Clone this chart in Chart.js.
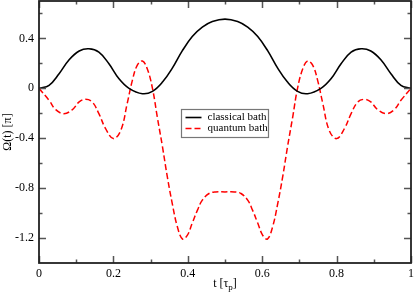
<!DOCTYPE html>
<html>
<head>
<meta charset="utf-8">
<script src="https://cdn.jsdelivr.net/npm/chart.js@4/dist/chart.umd.min.js"></script>
<style>
  html, body { margin: 0; padding: 0; background: #fff; }
</style>
</head>
<body>
<canvas id="chart" width="415" height="295"></canvas>
<script>
// data (t in units of tau_p, Omega in units of pi)
const classicalT = [0, 0.027, 0.054, 0.081, 0.108, 0.134, 0.161, 0.188, 0.215, 0.242, 0.278, 0.305, 0.332, 0.358, 0.385, 0.412, 0.439, 0.466, 0.5,
  0.534, 0.561, 0.588, 0.615, 0.642, 0.668, 0.695, 0.722, 0.758, 0.785, 0.812, 0.839, 0.866, 0.892, 0.919, 0.946, 0.973, 1];
const classicalOmega = [0, 0.024, 0.117, 0.229, 0.299, 0.317, 0.29, 0.197, 0.077, 0, -0.043, -0.024, 0.05, 0.16, 0.3, 0.415, 0.49, 0.535, 0.555,
  0.535, 0.49, 0.415, 0.3, 0.16, 0.05, -0.024, -0.043, 0, 0.077, 0.197, 0.29, 0.317, 0.299, 0.229, 0.117, 0.024, 0];

const quantumT = [0, 0.027, 0.045, 0.067, 0.09, 0.108, 0.125, 0.143, 0.161, 0.179, 0.2, 0.22, 0.237, 0.251, 0.264, 0.278, 0.291, 0.305,
  0.318, 0.332, 0.345, 0.358, 0.372, 0.386, 0.399, 0.412, 0.426, 0.439, 0.457, 0.475, 0.5,
  0.525, 0.543, 0.561, 0.574, 0.588, 0.601, 0.614, 0.628, 0.642, 0.655, 0.668, 0.682,
  0.695, 0.709, 0.722, 0.736, 0.749, 0.763, 0.78, 0.8, 0.821, 0.839, 0.857, 0.875, 0.892, 0.91, 0.933, 0.955, 0.973, 1];
const quantumOmega = [0, -0.096, -0.171, -0.203, -0.17, -0.109, -0.088, -0.109, -0.203, -0.323, -0.403, -0.336, -0.123, 0.064, 0.184, 0.219, 0.157, 0,
  -0.23, -0.47, -0.71, -0.92, -1.11, -1.208, -1.176, -1.08, -0.976, -0.896, -0.843, -0.83, -0.83,
  -0.83, -0.843, -0.896, -0.976, -1.08, -1.176, -1.208, -1.11, -0.92, -0.71, -0.47, -0.23,
  0, 0.157, 0.219, 0.184, 0.064, -0.123, -0.336, -0.403, -0.323, -0.203, -0.109, -0.088, -0.109, -0.17, -0.203, -0.171, -0.096, 0];

const xTicks = [0, 0.2, 0.4, 0.6, 0.8, 1];
const xMinorTicks = [0.1, 0.3, 0.5, 0.7, 0.9];
const yTicks = [-1.2, -0.8, -0.4, 0, 0.4];
const yMinorTicks = [-1.0, -0.6, -0.2, 0.2, 0.6];

const toPoints = (ts, vals) => ts.map((t, i) => ({ x: t, y: vals[i] }));

const serif = "'Liberation Serif', 'Times New Roman', serif";
const font = { family: serif, size: 12 };

// frame, inside ticks, axis titles and the boxed legend
const framePlugin = {
  id: "frame",
  afterDatasetsDraw(chart) {
    const { ctx, chartArea: a, scales } = chart;
    const xs = scales.x;
    const ys = scales.y;
    ctx.save();

    // ticks on all four sides, pointing inward
    ctx.strokeStyle = "#555";
    ctx.lineWidth = 1.5;
    const tick = (vals, len) => {
      vals.forEach((v) => {
        const px = Math.round(xs.getPixelForValue(v)) + 0.5;
        ctx.beginPath();
        ctx.moveTo(px, a.bottom);
        ctx.lineTo(px, a.bottom - len);
        ctx.moveTo(px, a.top);
        ctx.lineTo(px, a.top + len);
        ctx.stroke();
      });
    };
    const tickY = (vals, len) => {
      vals.forEach((v) => {
        const py = Math.round(ys.getPixelForValue(v)) + 0.5;
        ctx.beginPath();
        ctx.moveTo(a.left, py);
        ctx.lineTo(a.left + len, py);
        ctx.moveTo(a.right, py);
        ctx.lineTo(a.right - len, py);
        ctx.stroke();
      });
    };
    tick(xTicks, 7);
    tick(xMinorTicks, 3.5);
    tickY(yTicks, 7);
    tickY(yMinorTicks, 3.5);

    // frame
    ctx.strokeStyle = "#222";
    ctx.lineWidth = 1.8;
    ctx.strokeRect(a.left, a.top, a.right - a.left, a.bottom - a.top);

    // x title with subscript
    ctx.fillStyle = "#000";
    ctx.textBaseline = "alphabetic";
    ctx.font = `12px ${serif}`;
    const part1 = "t [τ";
    const part3 = "]";
    const w1 = ctx.measureText(part1).width;
    const w3 = ctx.measureText(part3).width;
    ctx.font = `9px ${serif}`;
    const w2 = ctx.measureText("p").width;
    const cx = (a.left + a.right) / 2;
    let x0 = cx - (w1 + w2 + w3) / 2;
    const base = a.bottom + 24;
    ctx.font = `12px ${serif}`;
    ctx.fillText(part1, x0, base);
    ctx.font = `9px ${serif}`;
    ctx.fillText("p", x0 + w1, base + 3);
    ctx.font = `12px ${serif}`;
    ctx.fillText(part3, x0 + w1 + w2, base);

    // y title
    ctx.save();
    ctx.translate(11, (a.top + a.bottom) / 2);
    ctx.rotate(-Math.PI / 2);
    ctx.textAlign = "center";
    ctx.fillText("Ω(t) [π]", 0, 0);
    ctx.restore();

    // legend box
    const lx = Math.round(a.left + 0.382 * (a.right - a.left)) + 0.5;
    const ly = Math.round(a.top + 0.414 * (a.bottom - a.top)) + 0.5;
    const lw = 87;
    const lh = 28;
    ctx.fillStyle = "#fff";
    ctx.fillRect(lx, ly, lw, lh);
    ctx.strokeStyle = "#777";
    ctx.lineWidth = 1.2;
    ctx.strokeRect(lx, ly, lw, lh);
    ctx.font = `11px ${serif}`;
    ctx.textBaseline = "middle";
    chart.data.datasets.forEach((ds, i) => {
      const yy = ly + 8 + i * 11;
      ctx.strokeStyle = ds.borderColor;
      ctx.lineWidth = ds.borderWidth;
      ctx.setLineDash(ds.borderDash || []);
      ctx.beginPath();
      ctx.moveTo(lx + 4, yy);
      ctx.lineTo(lx + 20, yy);
      ctx.stroke();
      ctx.setLineDash([]);
      ctx.fillStyle = "#000";
      ctx.fillText(ds.label, lx + 26, yy);
    });

    ctx.restore();
  },
};

new Chart(document.getElementById("chart"), {
  type: "line",
  data: {
    datasets: [
      {
        label: "classical bath",
        data: toPoints(classicalT, classicalOmega),
        borderColor: "#000",
        borderWidth: 1.6,
        pointRadius: 0,
        tension: 0.4,
      },
      {
        label: "quantum bath",
        data: toPoints(quantumT, quantumOmega),
        borderColor: "#ff0000",
        borderWidth: 1.5,
        borderDash: [6, 3],
        pointRadius: 0,
        tension: 0.4,
      },
    ],
  },
  options: {
    responsive: false,
    animation: false,
    layout: { padding: { left: 0, right: 4, top: 1, bottom: 0 } },
    scales: {
      x: {
        type: "linear",
        min: 0,
        max: 1,
        afterBuildTicks: (s) => (s.ticks = xTicks.map((v) => ({ value: v }))),
        afterFit: (s) => {
          s.height = 32;
          s.paddingLeft = 0;
          s.paddingRight = 0;
        },
        grid: { display: false, drawTicks: false },
        border: { display: false },
        ticks: { font, color: "#000", padding: 4, maxRotation: 0, autoSkip: false, callback: (v) => String(v) },
      },
      y: {
        min: -1.4,
        max: 0.7,
        afterBuildTicks: (s) => (s.ticks = yTicks.map((v) => ({ value: v }))),
        afterFit: (s) => {
          s.width = 39;
          s.paddingTop = 0;
          s.paddingBottom = 0;
        },
        grid: { display: false, drawTicks: false },
        border: { display: false },
        ticks: { font, color: "#000", padding: 5, autoSkip: false, callback: (v) => String(v) },
      },
    },
    plugins: {
      legend: { display: false },
      tooltip: { enabled: false },
    },
  },
  plugins: [framePlugin],
});
</script>
</body>
</html>
